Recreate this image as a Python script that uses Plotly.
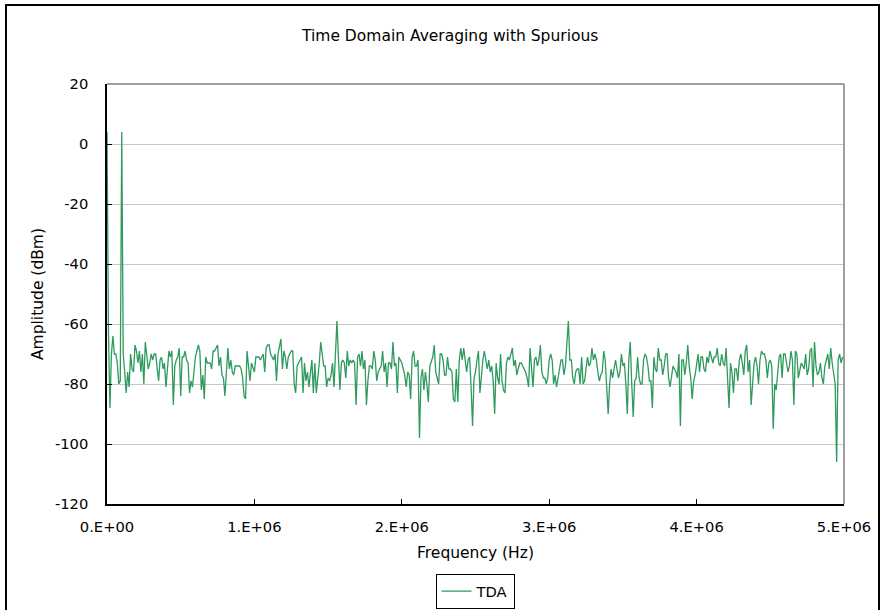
import plotly.graph_objects as go

# Amplitude (dBm) values, one per 10 kHz bin
amp_a = [4, -63, -88, -70, -64, -70, -70, -73, -80, -79,
         4, -70, -76, -83, -76, -81, -70, -75, -76, -67,
         -69, -73, -69, -76, -70, -80, -66, -71, -75, -73,
         -70, -72, -70, -70, -74, -79, -72, -71, -75, -73,
         -81, -74, -69, -71, -69, -87, -74, -72, -71, -68,
         -84, -71, -71, -69, -72, -73, -83, -79, -81, -76,
         -71, -69, -67, -69, -82, -77, -85, -71, -73, -73,
         -73, -75, -69]
amp_b = [-69, -68, -67, -74, -71, -77, -78, -84, -76, -68,
         -75, -72, -76, -77, -74, -74, -74, -74, -75, -78,
         -84, -85, -69, -73, -79, -73, -75, -76, -71, -71,
         -71, -72, -71, -70, -76, -68, -67, -67, -70, -71,
         -72, -70, -79, -70, -67, -65, -75, -69, -71, -75,
         -71, -70, -69, -69, -80, -83, -74, -73, -72, -71,
         -83, -73, -79, -76, -81, -77, -72, -83, -73, -83,
         -79, -73, -66, -71, -74, -74, -81, -78, -79, -77,
         -73, -81]
amp_c = [-69, -59, -71, -82, -73, -72, -73, -78, -69, -74,
         -72, -73, -72, -73, -87, -71, -70, -74, -69, -75,
         -72, -87, -79, -74, -74, -75, -69, -72, -79, -76,
         -75, -74, -69, -76, -73, -81, -73, -73, -75, -66,
         -74, -73, -83, -71, -72, -73, -75, -77, -81, -76,
         -77, -85, -71, -69, -74, -74, -72, -98, -78, -75,
         -82, -76, -80, -86, -74, -72, -71, -67, -76, -78,
         -80, -70, -70, -72, -77]
amp_d = [-77, -71, -75, -75, -76, -85, -86, -75, -86, -72,
         -68, -72, -68, -73, -76, -72, -71, -81, -94, -78,
         -76, -72, -69, -83, -76, -72, -69, -72, -75, -72,
         -76, -74, -79, -90, -73, -78, -80, -70, -79, -82,
         -83, -73, -71, -72, -70, -68, -74, -72, -77, -75,
         -73, -73, -74, -75, -76, -78, -81, -68, -76, -81,
         -72, -71, -74, -72, -67, -76, -78, -78, -80, -78,
         -72, -70, -72, -80, -77, -81, -78, -75]
amp_e = [-72, -72, -77, -74, -68, -59, -72, -72, -78, -80,
         -76, -75, -75, -80, -71, -80, -79, -75, -71, -74,
         -73, -68, -72, -70, -72, -76, -79, -77, -76, -69,
         -72, -81, -90, -80, -75, -78, -74, -72, -75, -78,
         -76, -70, -74, -73, -80, -90, -72, -66, -80, -91,
         -79, -78, -71, -78, -80, -80, -72, -70, -71, -74,
         -79, -79, -88, -71, -75, -76, -68, -72, -72, -77,
         -74, -70, -70, -78, -81, -78, -74, -75, -76, -78,
         -70]
amp_f = [-94, -72, -72, -77, -73, -67, -74, -78, -85, -79,
         -77, -73, -70, -76, -71, -71, -75, -76, -71, -73,
         -69, -71, -73, -71, -71, -68, -73, -74, -70, -73,
         -74, -68, -76, -88, -73, -76, -83, -75, -75, -79,
         -72, -70, -73, -77, -69, -67, -76, -72, -87, -81,
         -73, -71, -74, -80, -72, -69, -70, -70, -72, -78,
         -73, -72, -74, -95, -80, -82, -75, -71, -70, -78,
         -70, -70, -73, -76, -74, -69, -72, -87, -69, -70,
         -78, -76, -73, -74, -75, -70, -77, -75, -69, -68,
         -81, -66, -74, -77, -76, -73, -78, -80, -74]
amp_g = [-72, -70, -75, -68, -73, -77, -80, -106, -72, -70,
         -73, -71]

amplitude = amp_a + amp_b + amp_c + amp_d + amp_e + amp_f + amp_g
bin_width_hz = 1e4
frequency = [i * bin_width_hz for i in range(len(amplitude))]

x_tick_vals = [0, 1e6, 2e6, 3e6, 4e6, 5e6]
x_tick_text = ["0.E+00", "1.E+06", "2.E+06", "3.E+06", "4.E+06", "5.E+06"]
y_tick_vals = [20, 0, -20, -40, -60, -80, -100, -120]
y_tick_text = ["20", "0", "-20", "-40", "-60", "-80", "-100", "-120"]

FONT = "DejaVu Sans"
W, H = 882, 610
L, R, T, B = 107, 38, 84, 106
PW, PH = W - L - R, H - T - B


def px(x):
    return (x - L) / PW


def py(y):
    return (H - B - y) / PH


fig = go.Figure()
fig.add_trace(go.Scatter(
    x=frequency, y=amplitude, mode="lines", name="TDA",
    line=dict(color="#2E9A5E", width=1.3),
))

fig.update_layout(
    width=W, height=H, autosize=False,
    margin=dict(l=L, r=R, t=T, b=B, autoexpand=False),
    paper_bgcolor="white", plot_bgcolor="white",
    font=dict(family=FONT, size=14.7, color="black"),
    showlegend=True,
    legend=dict(
        x=px(475), y=py(591.5), xanchor="center", yanchor="middle",
        bordercolor="black", borderwidth=1, bgcolor="white",
        font=dict(family=FONT, size=14.7),
        itemwidth=30, tracegroupgap=0,
    ),
    xaxis=dict(
        range=[0, 5e6], tickvals=x_tick_vals, ticktext=x_tick_text,
        showgrid=False, zeroline=False, automargin=False,
        showline=True, linecolor="black", linewidth=1.5,
        ticks="inside", ticklen=5, tickcolor="black",
        tickfont=dict(size=14.7), ticklabelstandoff=9,
        title=dict(text="Frequency (Hz)", standoff=13,
                   font=dict(size=15.5)),
    ),
    yaxis=dict(
        range=[-120, 20], tickvals=y_tick_vals, ticktext=y_tick_text,
        showgrid=True, gridcolor="#C8C8C8", gridwidth=1,
        zeroline=False, automargin=False,
        showline=True, linecolor="black", linewidth=1.5,
        ticks="inside", ticklen=5, tickcolor="black",
        tickfont=dict(size=14.7), ticklabelstandoff=14,
        title=dict(text="Amplitude (dBm)", standoff=8,
                   font=dict(size=15.5)),
    ),
    annotations=[dict(
        text="Time Domain Averaging with Spurious",
        xref="paper", yref="paper", x=px(449), y=py(36),
        xanchor="center", yanchor="middle", showarrow=False,
        font=dict(family=FONT, size=15.5),
    )],
    shapes=[
        dict(type="line", xref="paper", yref="paper", x0=0, x1=1, y0=1, y1=1,
             line=dict(color="#808080", width=1.5)),
        dict(type="line", xref="paper", yref="paper", x0=1, x1=1, y0=0, y1=1,
             line=dict(color="#808080", width=1.5)),
        dict(type="rect", xref="paper", yref="paper",
             x0=px(6), x1=px(879), y0=py(615), y1=py(5),
             line=dict(color="black", width=2)),
    ],
)

fig.write_html(
    "out.html",
    config={"displayModeBar": False, "responsive": False},
    post_script="document.body.style.margin='0';document.body.style.overflow='hidden';",
)
